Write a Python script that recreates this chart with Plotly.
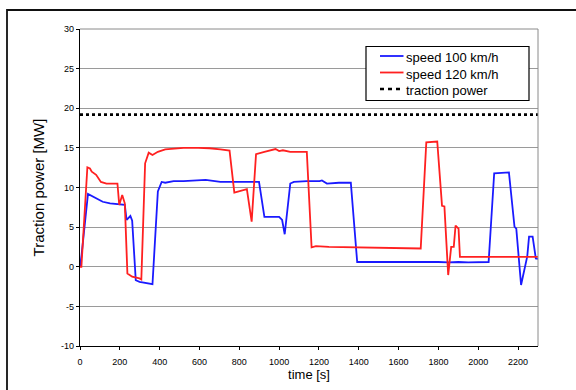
import plotly.graph_objects as go

# speed 100 km/h
t100 = [0, 8, 40, 77, 114, 151, 216, 225, 234, 253, 262, 280, 299, 354, 364, 391, 410, 428, 470, 520,
        580, 631, 705, 800, 871, 899, 926, 960, 1000, 1015, 1028, 1056, 1074, 1140, 1203, 1215, 1240, 1300,
        1360, 1392, 1450, 1500, 1600, 1700, 1800, 1850, 1900, 1950, 2000, 2052, 2080, 2154, 2182, 2191,
        2215, 2228, 2246, 2255, 2273, 2289, 2300]
p100 = [0, 1.5, 9.2, 8.75, 8.2, 8.0, 7.9, 7.8, 5.9, 6.4, 5.8, -1.7, -1.9, -2.1, -2.2, 9.5, 10.7, 10.6, 10.8, 10.8,
        10.9, 10.95, 10.7, 10.7, 10.7, 10.7, 6.3, 6.3, 6.3, 5.9, 4.1, 10.5, 10.7, 10.8, 10.8, 10.9, 10.5, 10.6,
        10.6, 0.6, 0.6, 0.65, 0.6, 0.65, 0.6, 0.55, 0.6, 0.55, 0.6, 0.6, 11.8, 11.9, 5.05, 4.8,
        -2.3, -0.8, 1.3, 3.8, 3.8, 1.05, 1.0]

# speed 120 km/h
t120 = [0, 7, 37, 50, 59, 81, 105, 133, 188, 197, 212, 225, 238, 262, 299, 308, 327, 345, 364, 391,
        428, 470, 520, 594, 650, 705, 751, 775, 838, 862, 884, 926, 982, 1000, 1019, 1056, 1139, 1163,
        1185, 1250, 1350, 1450, 1550, 1650, 1711, 1739, 1794, 1818, 1830, 1849, 1864, 1877, 1886, 1901,
        1908, 2300]
p120 = [0, 0, 12.55, 12.4, 12.0, 11.6, 10.7, 10.5, 10.5, 7.8, 9.05, 8.0, -0.84, -1.26, -1.47, -1.6, 13.05,
        14.4, 14.1, 14.5, 14.8, 14.9, 15.0, 15.0, 14.95, 14.8, 14.65, 9.35, 9.8, 5.7, 14.2, 14.5, 14.85,
        14.6, 14.7, 14.5, 14.5, 2.45, 2.6, 2.5, 2.45, 2.4, 2.35, 2.35, 2.3, 15.7, 15.8, 7.7, 7.6, -1.05,
        2.5, 2.5, 5.2, 4.8, 1.25, 1.25]

# traction power limit
t_lim = [0, 2300]
p_lim = [19.2, 19.2]

x_ticks = list(range(0, 2201, 200))
y_ticks = list(range(-10, 31, 5))
y_ticktext = [str(v) for v in y_ticks]

names = ["speed 100 km/h", "speed 120 km/h", "traction power"]
colors = ["#1a1aff", "#ff2020", "black"]

FONT = "Arial, Liberation Sans, sans-serif"

W, H = 576, 390
ML, MR, MT, MB = 80, 38, 29, 44
PW, PH = W - ML - MR, H - MT - MB


def px(x):
    return (x - ML) / PW


def py(y):
    return 1 - (y - MT) / PH


fig = go.Figure()
fig.add_trace(go.Scatter(x=t100, y=p100, mode="lines", name=names[0],
                         line=dict(color=colors[0], width=1.8)))
fig.add_trace(go.Scatter(x=t120, y=p120, mode="lines", name=names[1],
                         line=dict(color=colors[1], width=1.8)))
fig.add_trace(go.Scatter(x=t_lim, y=p_lim, mode="lines", name=names[2],
                         line=dict(color=colors[2], width=2.6, dash="3px,3px")))

shapes = [
    dict(type="line", xref="paper", yref="paper", x0=1, x1=1, y0=0, y1=1,
         line=dict(color="#8a8a8a", width=1)),
    dict(type="line", xref="paper", yref="paper", x0=0, x1=1, y0=1, y1=1,
         line=dict(color="#8a8a8a", width=1)),
    dict(type="rect", xref="paper", yref="paper", x0=px(7), x1=px(600), y0=py(420), y1=py(10),
         line=dict(color="#111111", width=1.8), layer="below"),
    # legend box
    dict(type="rect", xref="paper", yref="paper", x0=px(366), x1=px(529), y0=py(100.5), y1=py(46.5),
         line=dict(color="black", width=1.2), fillcolor="white", layer="above"),
]
annotations = []
rows = [56, 72.5, 89]
for i, (nm, c, ry) in enumerate(zip(names, colors, rows)):
    if i < 2:
        shapes.append(dict(type="line", xref="paper", yref="paper", x0=px(380), x1=px(403.5),
                           y0=py(ry), y1=py(ry), line=dict(color=c, width=1.8), layer="above"))
    else:
        shapes.append(dict(type="line", xref="paper", yref="paper", x0=px(380), x1=px(403.5),
                           y0=py(ry), y1=py(ry), line=dict(color=c, width=2.4, dash="4px,4px"),
                           layer="above"))
    annotations.append(dict(xref="paper", yref="paper", x=px(403.5), y=py(ry + 1.5),
                            xanchor="left", yanchor="middle", showarrow=False, text=nm,
                            font=dict(size=13, family=FONT, color="black")))

fig.update_layout(
    width=W, height=H,
    margin=dict(l=ML, r=MR, t=MT, b=MB),
    paper_bgcolor="white", plot_bgcolor="white",
    font=dict(family=FONT, size=9, color="black"),
    showlegend=False,
    xaxis=dict(range=[0, 2300], tickvals=x_ticks, showgrid=False, zeroline=False,
               showline=True, linecolor="black", linewidth=1.2,
               ticks="outside", ticklen=3, tickcolor="black", ticklabelstandoff=4,
               title=dict(text="time [s]", font=dict(size=13), standoff=0),
               tickfont=dict(size=9)),
    yaxis=dict(range=[-10, 30], tickvals=y_ticks, ticktext=y_ticktext,
               showgrid=True, gridcolor="#9a9a9a", gridwidth=1,
               zeroline=False, showline=True, linecolor="black", linewidth=1.2,
               ticks="outside", ticklen=3, tickcolor="black",
               title=dict(text="Traction power [MW]", font=dict(size=15), standoff=12),
               tickfont=dict(size=9)),
    shapes=shapes,
    annotations=annotations,
)

fig.write_html("out.html", config={"displayModeBar": False},
               post_script="document.body.style.margin='0';")
